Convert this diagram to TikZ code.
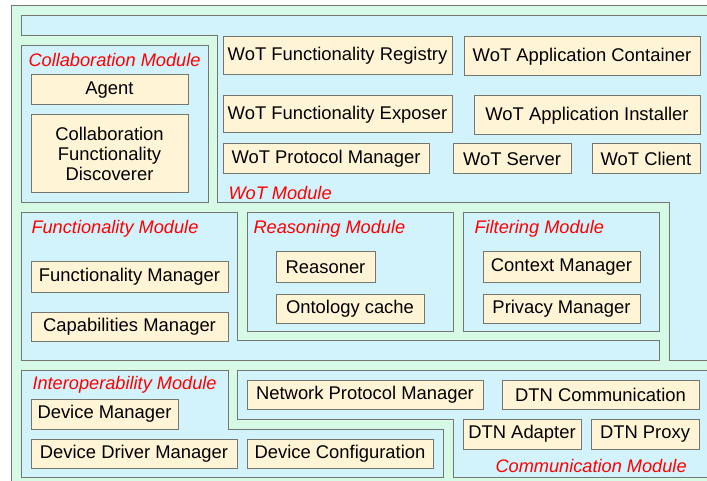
\documentclass[tikz,border=0pt]{standalone}
\usepackage{fontspec}
\setmainfont{Liberation Sans}
\definecolor{outgreen}{RGB}{214,250,230}
\definecolor{modblue}{RGB}{210,243,252}
\definecolor{boxfill}{RGB}{255,245,214}
\definecolor{edge}{RGB}{118,118,112}
\begin{document}
\begin{tikzpicture}[x=1pt,y=-1pt,line width=1pt,
  module/.style={draw=edge,fill=modblue},
  box/.style={draw=edge,fill=boxfill,inner sep=0pt,align=center,
    font=\fontsize{18.4}{20}\selectfont},
  modlabel/.style={anchor=west,inner sep=0pt,text=red,
    font=\fontsize{18.2}{20}\selectfont\itshape}]
\clip(0,0)rectangle(707,481);
\draw[draw=edge,fill=outgreen](11,6)rectangle(720,490);
\draw[module](21,16)--(715,16)--(715,360)--(669,360)--(669,203)--(217,203)--(217,36)--(21,36)--cycle;
\draw[module](21,46)rectangle(208,203);
\draw[module](21,213)--(237,213)--(237,340)--(659,340)--(659,360)--(21,360)--cycle;
\draw[module](247,213)rectangle(453,331);
\draw[module](463,213)rectangle(659,331);
\draw[module](21,370)--(228,370)--(228,429)--(443,429)--(443,477)--(21,477)--cycle;
\draw[module](237,370)--(715,370)--(715,477)--(453,477)--(453,419)--(237,419)--cycle;
\foreach \n/\x/\y/\t in {collab/28/60/Collaboration Module,wot/228/193/WoT Module,
  func/31/229/Functionality Module,reas/253/229/Reasoning Module,
  filt/474/229/Filtering Module,interop/32/385/Interoperability Module,
  comm/495/466/Communication Module}
\node[modlabel](\n)at(\x,\y){\t};
\foreach \n/\x/\y/\w/\h/\t in {agent/109.5/90/157/30/Agent,
  wfr/337.5/56/229/38/WoT Functionality Registry,wac/582/56.5/236/39/WoT Application Container,
  wfe/337.5/114.5/229/37/WoT Functionality Exposer,wai/587/115.5/226/39/WoT Application Installer,
  wpm/326/159/206/30/WoT Protocol Manager,wsrv/512/159/118/30/WoT Server,
  wcli/646/159/108/30/WoT Client,
  fm/129.5/277/197/30/Functionality Manager,cm/129.5/326.5/197/29/Capabilities Manager,
  rsn/325.5/267/99/30/Reasoner,onto/350/308.5/148/29/Ontology cache,
  ctx/561.5/267/157/30/Context Manager,prv/561.5/308.5/157/29/Privacy Manager,
  dm/104.5/414/147/30/Device Manager,ddm/134/453.5/206/29/Device Driver Manager,
  dc/340/453.5/186/29/Device Configuration,npm/365/394.5/236/29/Network Protocol Manager,
  dtnc/600.5/394.5/197/29/DTN Communication,dtna/522/434/118/30/DTN Adapter,
  dtnp/645/434/108/30/DTN Proxy}
\node[box,minimum width=\w,minimum height=\h](\n)at(\x,\y){\t};
\node[box,minimum width=157,minimum height=78](cfd)at(109.5,154)
  {Collaboration\\Functionality\\Discoverer};
\end{tikzpicture}
\end{document}
